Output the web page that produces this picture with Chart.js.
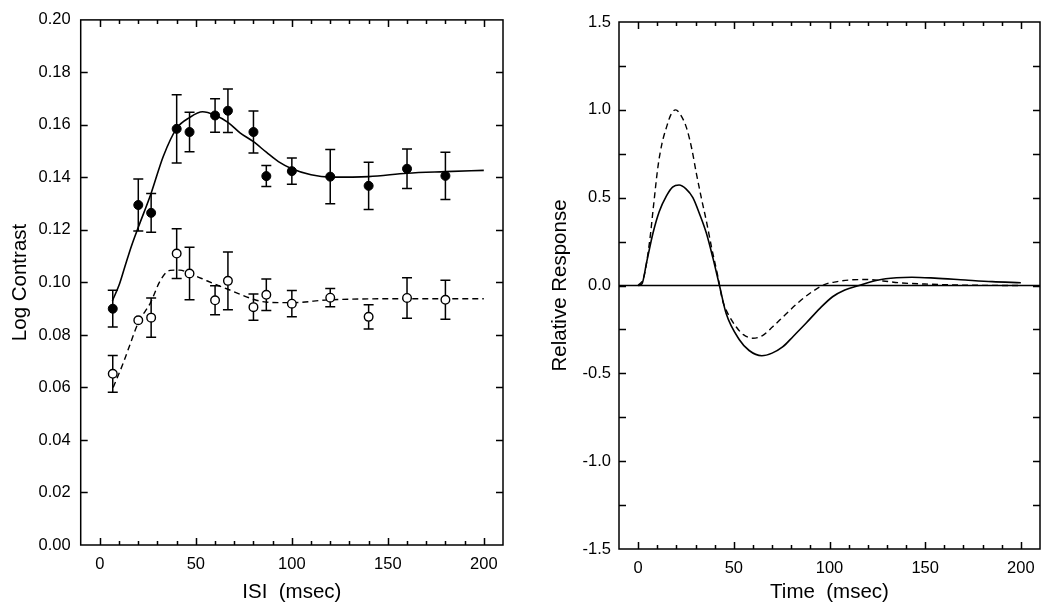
<!DOCTYPE html>
<html>
<head>
<meta charset="utf-8">
<script src="https://cdn.jsdelivr.net/npm/chart.js@4/dist/chart.umd.min.js"></script>
<style>
  body { margin: 0; background: #fff; }
  canvas { position: absolute; top: 0; }
</style>
</head>
<body>
<canvas id="left" width="525" height="610" style="left:0"></canvas>
<canvas id="right" width="525" height="610" style="left:525px"></canvas>
<script>
// ---- left panel: threshold vs ISI ----
const isi = [6.7, 20, 26.7, 40, 46.7, 60, 66.7, 80, 86.7, 100, 120, 140, 160, 180];
const filledVals = [0.090, 0.1295, 0.1265, 0.1585, 0.1573, 0.1636, 0.1654, 0.1573, 0.1405, 0.1424, 0.1403, 0.1368, 0.1433, 0.1406];
const filledErr  = [0.007, 0.0099, 0.0074, 0.013, 0.0075, 0.0064, 0.0083, 0.008, 0.004, 0.005, 0.0103, 0.009, 0.0075, 0.009];
const openVals = [0.0652, 0.0856, 0.0866, 0.1110, 0.1034, 0.0932, 0.1006, 0.0906, 0.0953, 0.0919, 0.0942, 0.0869, 0.0941, 0.0934];
const openErr  = [0.007, 0, 0.0075, 0.0095, 0.010, 0.0055, 0.011, 0.005, 0.006, 0.005, 0.0035, 0.0046, 0.0077, 0.0074];

// fitted curves
const solidFitX = [6.5, 10, 13, 16.5, 20, 26.7, 33, 40, 46.7, 53.5, 60, 66.7, 73, 80, 86.7, 93, 100, 110, 120, 140, 160, 180, 200];
const solidFitY = [0.093, 0.099, 0.106, 0.114, 0.121, 0.134, 0.148, 0.1587, 0.1628, 0.165, 0.1637, 0.161, 0.157, 0.1536, 0.1496, 0.146, 0.1433, 0.141, 0.1401, 0.1403, 0.1416, 0.1422, 0.1427];
const dashFitX = [6.9, 12, 16, 20, 26.4, 31.3, 36.5, 41.7, 46.7, 53, 60, 66.7, 80, 86.7, 100, 120, 160, 200];
const dashFitY = [0.060, 0.069, 0.077, 0.0847, 0.0923, 0.1005, 0.1046, 0.1047, 0.1034, 0.1015, 0.0993, 0.0974, 0.0936, 0.0925, 0.0923, 0.0934, 0.0938, 0.0938];

// ---- right panel: impulse responses ----
const solidT = [0, 2, 4.4, 7.8, 11, 14.8, 18, 21.4, 25, 28.6, 32, 35.6, 39, 42.5, 46, 53, 58, 64.6, 70, 75.5, 81, 87.7, 95, 101.6, 108, 115.5, 125, 135, 143, 155, 171, 185, 200];
const solidR = [0, 0.01, 0.13, 0.30, 0.42, 0.51, 0.56, 0.572, 0.55, 0.50, 0.41, 0.30, 0.16, 0, -0.16, -0.31, -0.37, -0.40, -0.385, -0.35, -0.29, -0.215, -0.13, -0.064, -0.025, 0, 0.03, 0.044, 0.047, 0.042, 0.031, 0.022, 0.016];
const dashT = [0, 3, 6.1, 8, 10.4, 12.5, 14.8, 17, 19.6, 22, 25.2, 28, 30.4, 33, 35.6, 38.5, 41.7, 44, 46, 51.2, 55, 59.9, 65, 70.3, 77, 84.2, 91, 98, 104, 110, 119, 128, 136, 153, 170, 200];
const dashR = [0, 0.05, 0.26, 0.45, 0.68, 0.81, 0.90, 0.97, 1.0, 0.975, 0.90, 0.78, 0.64, 0.5, 0.37, 0.21, 0.05, -0.08, -0.14, -0.235, -0.28, -0.30, -0.285, -0.235, -0.165, -0.092, -0.035, 0.008, 0.022, 0.031, 0.034, 0.026, 0.016, 0.007, 0.002, 0];

const FONT = 'Liberation Sans, Arial, Helvetica, sans-serif';
Chart.defaults.font.family = FONT;
Chart.defaults.color = '#000';

const pts = (xs, ys) => xs.map((x, i) => ({ x: x, y: ys[i] }));

// error bars under the markers
const errorBars = {
  id: 'errorBars',
  beforeDatasetsDraw(chart) {
    const ctx = chart.ctx, xs = chart.scales.x, ys = chart.scales.y;
    ctx.save();
    ctx.strokeStyle = '#000';
    ctx.lineWidth = 1.5;
    chart.data.datasets.forEach(ds => {
      if (!ds.err) return;
      ds.data.forEach((p, i) => {
        const e = ds.err[i];
        if (!e) return;
        const px = xs.getPixelForValue(p.x);
        const top = ys.getPixelForValue(p.y + e);
        const bot = ys.getPixelForValue(p.y - e);
        ctx.beginPath();
        ctx.moveTo(px, top); ctx.lineTo(px, bot);
        ctx.moveTo(px - 5, top); ctx.lineTo(px + 5, top);
        ctx.moveTo(px - 5, bot); ctx.lineTo(px + 5, bot);
        ctx.stroke();
      });
    });
    ctx.restore();
  }
};

// frame with inward ticks on all four sides
const frame = {
  id: 'frame',
  afterDraw(chart) {
    const ctx = chart.ctx, a = chart.chartArea;
    const xs = chart.scales.x, ys = chart.scales.y;
    ctx.save();
    ctx.strokeStyle = '#000';
    ctx.lineWidth = 1.5;
    ctx.beginPath();
    xs.ticks.forEach(t => {
      if (t.value <= xs.min || t.value >= xs.max) return;
      const px = Math.round(xs.getPixelForValue(t.value)) + 0.5;
      const len = t.value % 50 === 0 ? 7 : 4;
      ctx.moveTo(px, a.bottom); ctx.lineTo(px, a.bottom - len);
      ctx.moveTo(px, a.top); ctx.lineTo(px, a.top + len);
    });
    ys.ticks.forEach(t => {
      if (t.value <= ys.min + 1e-9 || t.value >= ys.max - 1e-9) return;
      const py = Math.round(ys.getPixelForValue(t.value)) + 0.5;
      ctx.moveTo(a.left, py); ctx.lineTo(a.left + 7, py);
      ctx.moveTo(a.right, py); ctx.lineTo(a.right - 7, py);
    });
    ctx.stroke();
    ctx.strokeRect(a.left, a.top, a.right - a.left, a.bottom - a.top);
    ctx.restore();
  }
};

function xAxis(title, h) {
  return {
    type: 'linear', min: -10, max: 210,
    grid: { display: false, drawTicks: false }, border: { display: false },
    ticks: {
      stepSize: 10, autoSkip: false, maxRotation: 0, padding: 10,
      font: { size: 16.5 },
      callback: v => (v % 50 === 0 ? String(v) : '')
    },
    title: { display: true, text: title, font: { size: 20.5 }, padding: { top: 4, bottom: 5 } },
    afterFit: s => { s.height = h; }
  };
}

new Chart(document.getElementById('left'), {
  type: 'scatter',
  data: {
    datasets: [
      { data: pts(isi, filledVals), err: filledErr, pointRadius: 4.5, backgroundColor: '#000', borderColor: '#000', borderWidth: 1 },
      { data: pts(isi, openVals), err: openErr, pointRadius: 4.3, backgroundColor: '#fff', borderColor: '#000', borderWidth: 1.4 },
      { data: pts(solidFitX, solidFitY), showLine: true, cubicInterpolationMode: 'monotone', borderColor: '#000', borderWidth: 1.6, pointRadius: 0 },
      { data: pts(dashFitX, dashFitY), showLine: true, cubicInterpolationMode: 'monotone', borderColor: '#000', borderWidth: 1.4, borderDash: [6, 4], pointRadius: 0 }
    ]
  },
  options: {
    responsive: false, animation: false,
    layout: { padding: { top: 17.7, right: 22, left: 0, bottom: 0 } },
    plugins: { legend: { display: false }, tooltip: { enabled: false } },
    scales: {
      x: xAxis('ISI  (msec)', 65),
      y: {
        type: 'linear', min: 0, max: 0.2,
        grid: { display: false, drawTicks: false }, border: { display: false },
        ticks: { stepSize: 0.02, padding: 10, font: { size: 16.5 }, callback: v => v.toFixed(2) },
        title: { display: true, text: 'Log Contrast', font: { size: 20.5 }, padding: { top: 8, bottom: 0 } },
        afterFit: s => { s.width = 80.7; }
      }
    }
  },
  plugins: [errorBars, frame]
});

new Chart(document.getElementById('right'), {
  type: 'scatter',
  data: {
    datasets: [
      { data: pts(solidT, solidR), showLine: true, cubicInterpolationMode: 'monotone', borderColor: '#000', borderWidth: 1.6, pointRadius: 0 },
      { data: pts(dashT, dashR), showLine: true, cubicInterpolationMode: 'monotone', borderColor: '#000', borderWidth: 1.4, borderDash: [6, 4], pointRadius: 0 },
      { data: pts([-10, 210], [0, 0]), showLine: true, borderColor: '#000', borderWidth: 1.5, pointRadius: 0 }
    ]
  },
  options: {
    responsive: false, animation: false,
    layout: { padding: { top: 22, right: 8.3, left: 0, bottom: 0 } },
    plugins: { legend: { display: false }, tooltip: { enabled: false } },
    scales: {
      x: xAxis('Time  (msec)', 61),
      y: {
        type: 'linear', min: -1.5, max: 1.5,
        grid: { display: false, drawTicks: false }, border: { display: false },
        ticks: {
          stepSize: 0.25, autoSkip: false, padding: 8, font: { size: 16.5 },
          callback: v => (Math.abs(v * 2 - Math.round(v * 2)) < 1e-6 ? v.toFixed(1) : '')
        },
        title: { display: true, text: 'Relative Response', font: { size: 20.5 }, padding: { top: 23, bottom: 0 } },
        afterFit: s => { s.width = 94; }
      }
    }
  },
  plugins: [frame]
});
</script>
</body>
</html>
